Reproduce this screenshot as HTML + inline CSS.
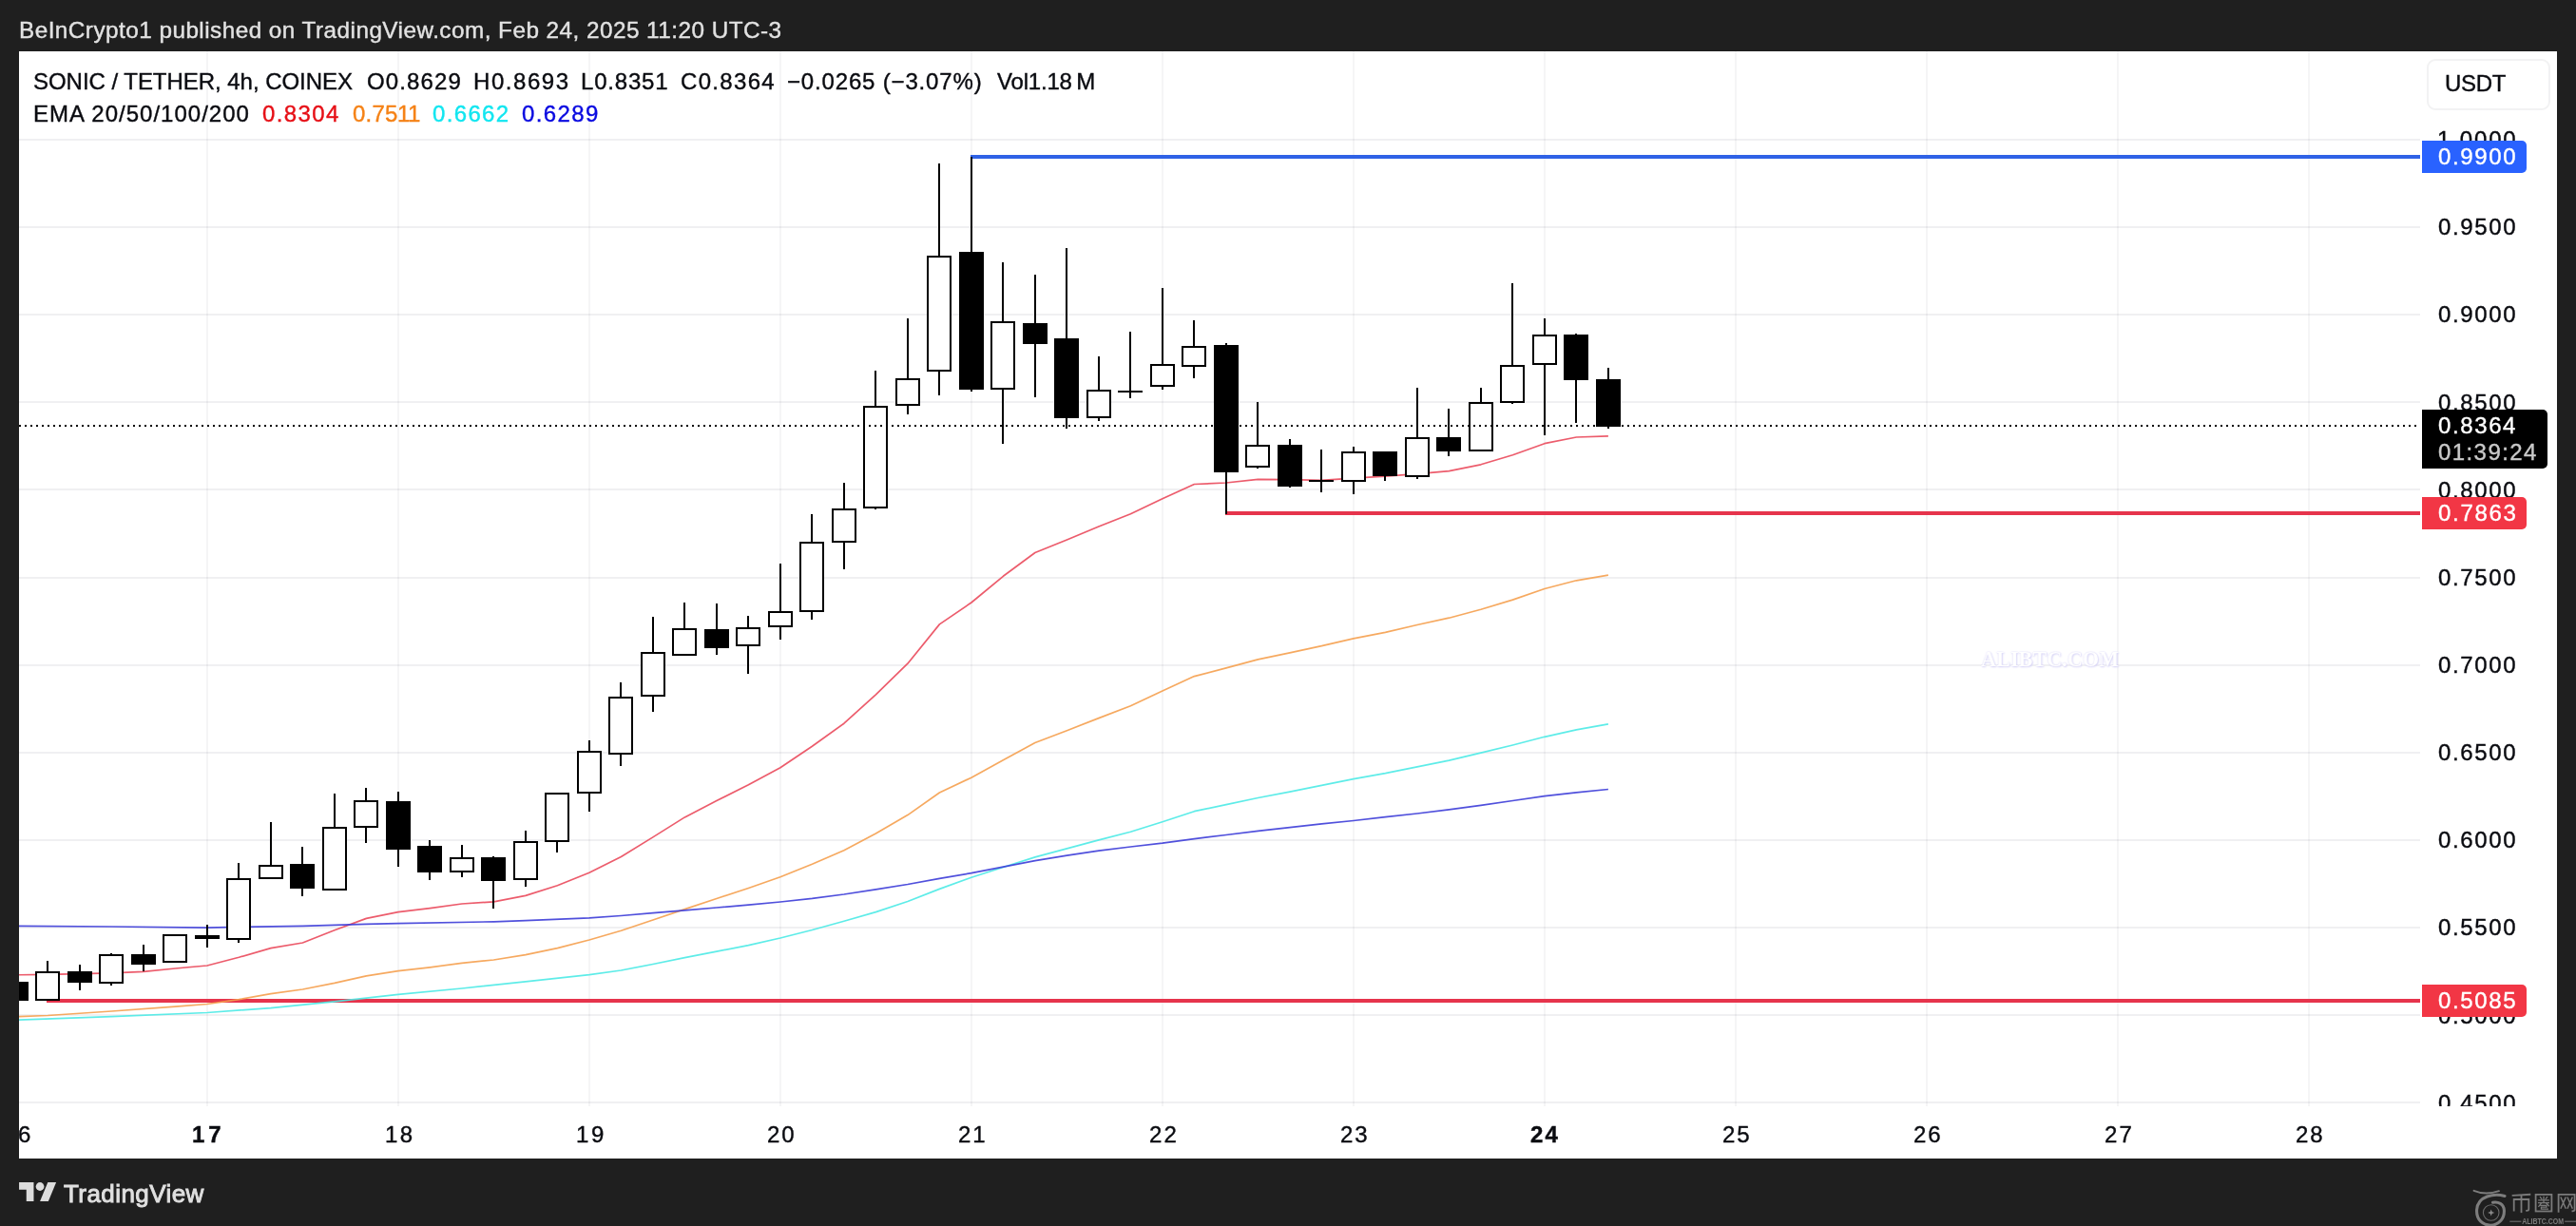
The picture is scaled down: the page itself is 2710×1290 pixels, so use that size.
<!DOCTYPE html>
<html><head><meta charset="utf-8"><title>SONIC / TETHER chart</title>
<style>
html,body{margin:0;padding:0;}
body{width:2710px;height:1290px;background:#1f1f1f;position:relative;overflow:hidden;font-family:"Liberation Sans",sans-serif;}
#paper{position:absolute;left:20px;top:54px;width:2670px;height:1165px;background:#fff;}
svg{position:absolute;left:0;top:0;}
.t{position:absolute;white-space:pre;font-family:"Liberation Sans",sans-serif;will-change:transform;-webkit-font-smoothing:antialiased;-webkit-text-stroke:0.4px;}
.lab{position:absolute;left:2548px;border-radius:0 5px 5px 0;}
</style></head><body>
<div id="paper"></div>

<svg width="2710" height="1290" viewBox="0 0 2710 1290">
<defs><clipPath id="pane"><rect x="20" y="54" width="2526" height="1110"/></clipPath></defs>
<g fill="rgba(42,46,57,0.047)">
<rect x="217" y="54" width="2" height="1110"/>
<rect x="418" y="54" width="2" height="1110"/>
<rect x="619" y="54" width="2" height="1110"/>
<rect x="820" y="54" width="2" height="1110"/>
<rect x="1021" y="54" width="2" height="1110"/>
<rect x="1222" y="54" width="2" height="1110"/>
<rect x="1423" y="54" width="2" height="1110"/>
<rect x="1624" y="54" width="2" height="1110"/>
<rect x="1825" y="54" width="2" height="1110"/>
<rect x="2026" y="54" width="2" height="1110"/>
<rect x="2227" y="54" width="2" height="1110"/>
<rect x="2428" y="54" width="2" height="1110"/>
</g><g fill="rgba(42,46,70,0.07)">
<rect x="20" y="146" width="2526" height="2"/>
<rect x="20" y="238" width="2526" height="2"/>
<rect x="20" y="330" width="2526" height="2"/>
<rect x="20" y="422" width="2526" height="2"/>
<rect x="20" y="514" width="2526" height="2"/>
<rect x="20" y="607" width="2526" height="2"/>
<rect x="20" y="699" width="2526" height="2"/>
<rect x="20" y="791" width="2526" height="2"/>
<rect x="20" y="883" width="2526" height="2"/>
<rect x="20" y="975" width="2526" height="2"/>
<rect x="20" y="1067" width="2526" height="2"/>
<rect x="20" y="1159" width="2526" height="2"/>
</g>
<g clip-path="url(#pane)">
<rect x="1021" y="163" width="1525" height="4" fill="#2f62e6"/>
<rect x="1289" y="538" width="1257" height="4" fill="#e6344c"/>
<rect x="49" y="1051" width="2497" height="4" fill="#e6344c"/>
<polyline points="16.9,1025.8 50.4,1025.3 83.9,1024.6 117.4,1023.8 150.9,1022.3 184.4,1019.0 217.9,1016.0 251.4,1007.3 284.9,997.6 318.4,992.0 351.9,978.8 385.4,966.4 418.9,959.7 452.4,955.6 485.9,951.0 519.4,948.8 552.9,942.4 586.4,931.7 619.9,918.2 653.4,901.5 686.9,880.9 720.4,859.9 753.9,842.6 787.4,825.7 820.9,807.7 854.4,785.2 887.9,761.2 921.4,730.8 954.9,698.2 988.4,656.9 1021.9,634.0 1055.4,606.3 1088.9,581.5 1122.4,568.0 1155.9,554.0 1189.4,540.8 1222.9,524.7 1256.4,509.5 1289.9,508.0 1323.4,504.3 1356.9,504.6 1390.4,505.4 1423.9,503.1 1457.4,501.2 1490.9,498.6 1524.4,495.6 1557.9,488.8 1591.4,478.7 1624.9,466.7 1658.4,460.0 1691.9,458.8" fill="none" stroke="#ea4a5c" stroke-width="1.7" stroke-linejoin="round" stroke-linecap="butt" opacity="0.9"/>
<polyline points="16.9,1069.8 50.4,1068.5 117.4,1064.0 184.4,1059.1 217.9,1056.5 251.4,1051.6 284.9,1045.6 318.4,1041.0 351.9,1034.3 385.4,1026.8 418.9,1021.6 452.4,1017.8 485.9,1013.3 519.4,1010.0 552.9,1004.7 586.4,997.6 619.9,989.0 653.4,979.3 686.9,968.0 720.4,956.6 753.9,945.5 787.4,934.5 820.9,922.8 854.4,909.2 887.9,894.7 921.4,877.1 954.9,857.6 988.4,834.0 1021.9,818.2 1055.4,799.8 1088.9,781.5 1122.4,768.7 1155.9,755.6 1189.4,742.8 1222.9,727.0 1256.4,711.6 1289.9,702.9 1323.4,693.9 1356.9,686.8 1390.4,679.7 1423.9,671.8 1457.4,665.3 1490.9,657.5 1524.4,650.2 1557.9,641.2 1591.4,631.1 1624.9,619.5 1658.4,610.8 1691.9,605.2" fill="none" stroke="#f5a04f" stroke-width="1.7" stroke-linejoin="round" stroke-linecap="butt" opacity="0.9"/>
<polyline points="16.9,1073.2 117.4,1069.6 217.9,1065.5 284.9,1060.6 351.9,1053.8 418.9,1046.3 485.9,1040.0 552.9,1032.8 619.9,1025.7 653.4,1021.0 686.9,1014.5 720.4,1007.7 753.9,1001.2 787.4,994.7 820.9,987.0 854.4,978.5 887.9,969.2 921.4,959.6 954.9,948.5 988.4,935.4 1021.9,923.3 1055.4,912.5 1088.9,901.9 1122.4,892.9 1155.9,883.9 1189.4,875.3 1222.9,864.7 1256.4,853.7 1289.9,846.6 1323.4,839.5 1356.9,833.1 1390.4,826.3 1423.9,819.6 1457.4,813.6 1490.9,806.8 1524.4,800.1 1557.9,792.2 1591.4,784.0 1624.9,775.3 1658.4,767.8 1691.9,761.8" fill="none" stroke="#4deae6" stroke-width="1.7" stroke-linejoin="round" stroke-linecap="butt" opacity="0.9"/>
<polyline points="16.9,974.3 117.4,975.0 217.9,976.2 251.4,975.4 318.4,974.3 385.4,972.4 418.9,971.7 519.4,969.8 552.9,968.7 619.9,965.9 653.4,963.5 686.9,960.7 720.4,957.8 753.9,955.0 787.4,952.2 820.9,949.0 854.4,945.4 887.9,941.0 921.4,935.8 954.9,930.5 988.4,924.3 1021.9,918.7 1055.4,912.2 1088.9,905.6 1122.4,900.2 1155.9,895.1 1189.4,891.0 1222.9,887.2 1256.4,882.6 1289.9,878.5 1323.4,874.4 1356.9,870.6 1390.4,866.9 1423.9,863.5 1457.4,859.7 1490.9,856.0 1524.4,851.9 1557.9,847.4 1591.4,842.5 1624.9,837.6 1658.4,833.9 1691.9,830.5" fill="none" stroke="#3d3dd8" stroke-width="1.7" stroke-linejoin="round" stroke-linecap="butt" opacity="0.9"/>
<g fill="#000">
<rect x="4" y="1033" width="26" height="20"/>
<rect x="49" y="1011" width="2" height="11"/>
<rect x="37" y="1022" width="26" height="31"/>
<rect x="39" y="1024" width="22" height="27" fill="#fff"/>
<rect x="83" y="1015" width="2" height="7"/>
<rect x="83" y="1034" width="2" height="8"/>
<rect x="71" y="1022" width="26" height="12"/>
<rect x="116" y="1003" width="2" height="1"/>
<rect x="116" y="1035" width="2" height="2"/>
<rect x="104" y="1004" width="26" height="31"/>
<rect x="106" y="1006" width="22" height="27" fill="#fff"/>
<rect x="150" y="994" width="2" height="10"/>
<rect x="150" y="1015" width="2" height="7"/>
<rect x="138" y="1004" width="26" height="11"/>
<rect x="171" y="983" width="26" height="30"/>
<rect x="173" y="985" width="22" height="26" fill="#fff"/>
<rect x="217" y="973" width="2" height="11"/>
<rect x="217" y="988" width="2" height="9"/>
<rect x="205" y="984" width="26" height="4"/>
<rect x="250" y="908" width="2" height="16"/>
<rect x="250" y="989" width="2" height="3"/>
<rect x="238" y="924" width="26" height="65"/>
<rect x="240" y="926" width="22" height="61" fill="#fff"/>
<rect x="284" y="865" width="2" height="45"/>
<rect x="272" y="910" width="26" height="15"/>
<rect x="274" y="912" width="22" height="11" fill="#fff"/>
<rect x="317" y="891" width="2" height="18"/>
<rect x="317" y="935" width="2" height="8"/>
<rect x="305" y="909" width="26" height="26"/>
<rect x="351" y="835" width="2" height="35"/>
<rect x="339" y="870" width="26" height="67"/>
<rect x="341" y="872" width="22" height="63" fill="#fff"/>
<rect x="384" y="829" width="2" height="13"/>
<rect x="384" y="871" width="2" height="16"/>
<rect x="372" y="842" width="26" height="29"/>
<rect x="374" y="844" width="22" height="25" fill="#fff"/>
<rect x="418" y="833" width="2" height="10"/>
<rect x="418" y="894" width="2" height="18"/>
<rect x="406" y="843" width="26" height="51"/>
<rect x="451" y="884" width="2" height="6"/>
<rect x="451" y="918" width="2" height="8"/>
<rect x="439" y="890" width="26" height="28"/>
<rect x="485" y="889" width="2" height="13"/>
<rect x="485" y="918" width="2" height="5"/>
<rect x="473" y="902" width="26" height="16"/>
<rect x="475" y="904" width="22" height="12" fill="#fff"/>
<rect x="518" y="901" width="2" height="1"/>
<rect x="518" y="927" width="2" height="29"/>
<rect x="506" y="902" width="26" height="25"/>
<rect x="552" y="874" width="2" height="11"/>
<rect x="552" y="926" width="2" height="7"/>
<rect x="540" y="885" width="26" height="41"/>
<rect x="542" y="887" width="22" height="37" fill="#fff"/>
<rect x="585" y="886" width="2" height="11"/>
<rect x="573" y="834" width="26" height="52"/>
<rect x="575" y="836" width="22" height="48" fill="#fff"/>
<rect x="619" y="779" width="2" height="11"/>
<rect x="619" y="835" width="2" height="19"/>
<rect x="607" y="790" width="26" height="45"/>
<rect x="609" y="792" width="22" height="41" fill="#fff"/>
<rect x="652" y="718" width="2" height="15"/>
<rect x="652" y="794" width="2" height="12"/>
<rect x="640" y="733" width="26" height="61"/>
<rect x="642" y="735" width="22" height="57" fill="#fff"/>
<rect x="686" y="649" width="2" height="37"/>
<rect x="686" y="733" width="2" height="16"/>
<rect x="674" y="686" width="26" height="47"/>
<rect x="676" y="688" width="22" height="43" fill="#fff"/>
<rect x="719" y="634" width="2" height="27"/>
<rect x="707" y="661" width="26" height="29"/>
<rect x="709" y="663" width="22" height="25" fill="#fff"/>
<rect x="753" y="635" width="2" height="27"/>
<rect x="753" y="682" width="2" height="7"/>
<rect x="741" y="662" width="26" height="20"/>
<rect x="786" y="648" width="2" height="12"/>
<rect x="786" y="680" width="2" height="29"/>
<rect x="774" y="660" width="26" height="20"/>
<rect x="776" y="662" width="22" height="16" fill="#fff"/>
<rect x="820" y="593" width="2" height="50"/>
<rect x="820" y="660" width="2" height="13"/>
<rect x="808" y="643" width="26" height="17"/>
<rect x="810" y="645" width="22" height="13" fill="#fff"/>
<rect x="853" y="541" width="2" height="29"/>
<rect x="853" y="644" width="2" height="8"/>
<rect x="841" y="570" width="26" height="74"/>
<rect x="843" y="572" width="22" height="70" fill="#fff"/>
<rect x="887" y="508" width="2" height="27"/>
<rect x="887" y="571" width="2" height="28"/>
<rect x="875" y="535" width="26" height="36"/>
<rect x="877" y="537" width="22" height="32" fill="#fff"/>
<rect x="920" y="390" width="2" height="37"/>
<rect x="920" y="535" width="2" height="1"/>
<rect x="908" y="427" width="26" height="108"/>
<rect x="910" y="429" width="22" height="104" fill="#fff"/>
<rect x="954" y="335" width="2" height="63"/>
<rect x="954" y="427" width="2" height="9"/>
<rect x="942" y="398" width="26" height="29"/>
<rect x="944" y="400" width="22" height="25" fill="#fff"/>
<rect x="987" y="172" width="2" height="97"/>
<rect x="987" y="391" width="2" height="25"/>
<rect x="975" y="269" width="26" height="122"/>
<rect x="977" y="271" width="22" height="118" fill="#fff"/>
<rect x="1021" y="165" width="2" height="100"/>
<rect x="1021" y="410" width="2" height="2"/>
<rect x="1009" y="265" width="26" height="145"/>
<rect x="1054" y="276" width="2" height="62"/>
<rect x="1054" y="410" width="2" height="57"/>
<rect x="1042" y="338" width="26" height="72"/>
<rect x="1044" y="340" width="22" height="68" fill="#fff"/>
<rect x="1088" y="289" width="2" height="51"/>
<rect x="1088" y="362" width="2" height="56"/>
<rect x="1076" y="340" width="26" height="22"/>
<rect x="1121" y="261" width="2" height="95"/>
<rect x="1121" y="440" width="2" height="11"/>
<rect x="1109" y="356" width="26" height="84"/>
<rect x="1155" y="375" width="2" height="35"/>
<rect x="1155" y="440" width="2" height="3"/>
<rect x="1143" y="410" width="26" height="30"/>
<rect x="1145" y="412" width="22" height="26" fill="#fff"/>
<rect x="1188" y="349" width="2" height="62"/>
<rect x="1188" y="413" width="2" height="6"/>
<rect x="1176" y="411" width="26" height="2"/>
<rect x="1222" y="303" width="2" height="80"/>
<rect x="1222" y="407" width="2" height="3"/>
<rect x="1210" y="383" width="26" height="24"/>
<rect x="1212" y="385" width="22" height="20" fill="#fff"/>
<rect x="1255" y="337" width="2" height="27"/>
<rect x="1255" y="386" width="2" height="12"/>
<rect x="1243" y="364" width="26" height="22"/>
<rect x="1245" y="366" width="22" height="18" fill="#fff"/>
<rect x="1289" y="361" width="2" height="2"/>
<rect x="1289" y="497" width="2" height="44"/>
<rect x="1277" y="363" width="26" height="134"/>
<rect x="1322" y="423" width="2" height="45"/>
<rect x="1322" y="492" width="2" height="1"/>
<rect x="1310" y="468" width="26" height="24"/>
<rect x="1312" y="470" width="22" height="20" fill="#fff"/>
<rect x="1356" y="462" width="2" height="6"/>
<rect x="1356" y="512" width="2" height="1"/>
<rect x="1344" y="468" width="26" height="44"/>
<rect x="1389" y="473" width="2" height="32"/>
<rect x="1389" y="507" width="2" height="11"/>
<rect x="1377" y="505" width="26" height="2"/>
<rect x="1423" y="470" width="2" height="5"/>
<rect x="1423" y="507" width="2" height="13"/>
<rect x="1411" y="475" width="26" height="32"/>
<rect x="1413" y="477" width="22" height="28" fill="#fff"/>
<rect x="1456" y="501" width="2" height="5"/>
<rect x="1444" y="475" width="26" height="26"/>
<rect x="1490" y="408" width="2" height="52"/>
<rect x="1490" y="502" width="2" height="2"/>
<rect x="1478" y="460" width="26" height="42"/>
<rect x="1480" y="462" width="22" height="38" fill="#fff"/>
<rect x="1523" y="430" width="2" height="30"/>
<rect x="1523" y="475" width="2" height="5"/>
<rect x="1511" y="460" width="26" height="15"/>
<rect x="1557" y="408" width="2" height="15"/>
<rect x="1545" y="423" width="26" height="52"/>
<rect x="1547" y="425" width="22" height="48" fill="#fff"/>
<rect x="1590" y="298" width="2" height="86"/>
<rect x="1590" y="424" width="2" height="1"/>
<rect x="1578" y="384" width="26" height="40"/>
<rect x="1580" y="386" width="22" height="36" fill="#fff"/>
<rect x="1624" y="335" width="2" height="17"/>
<rect x="1624" y="384" width="2" height="74"/>
<rect x="1612" y="352" width="26" height="32"/>
<rect x="1614" y="354" width="22" height="28" fill="#fff"/>
<rect x="1657" y="351" width="2" height="1"/>
<rect x="1657" y="400" width="2" height="45"/>
<rect x="1645" y="352" width="26" height="48"/>
<rect x="1691" y="387" width="2" height="12"/>
<rect x="1691" y="449" width="2" height="2"/>
<rect x="1679" y="399" width="26" height="50"/>
</g>
<line x1="20" y1="448" x2="2546" y2="448" stroke="#000" stroke-width="2" stroke-dasharray="2 4" stroke-dashoffset="0"/>
</g>
<g transform="translate(20.06,1239.7) scale(1.1)" fill="#dcdcdc"><path d="M14 22H7V11H0V4h14v18z"/><path d="M28 22h-8l7.5-18h8L28 22z"/><circle cx="20" cy="8" r="4"/></g>
</svg>
<div class="t" style="left:19.75px;top:17.58px;font-size:24.3px;line-height:28.3px;letter-spacing:0.468px;color:#e2e2e2;">BeInCrypto1 published on TradingView.com, Feb 24, 2025 11:20 UTC-3</div>
<div class="t" style="left:35.48px;top:71.73px;font-size:24px;line-height:28px;letter-spacing:-0.039px;color:#0a0b10;">SONIC / TETHER, 4h, COINEX</div>
<div class="t" style="left:386.27px;top:71.73px;font-size:24px;line-height:28px;letter-spacing:1.121px;color:#0a0b10;">O0.8629</div>
<div class="t" style="left:498.00px;top:71.73px;font-size:24px;line-height:28px;letter-spacing:1.562px;color:#0a0b10;">H0.8693</div>
<div class="t" style="left:611.00px;top:71.73px;font-size:24px;line-height:28px;letter-spacing:0.812px;color:#0a0b10;">L0.8351</div>
<div class="t" style="left:715.55px;top:71.73px;font-size:24px;line-height:28px;letter-spacing:1.325px;color:#0a0b10;">C0.8364</div>
<div class="t" style="left:828.38px;top:71.73px;font-size:24px;line-height:28px;letter-spacing:0.833px;color:#0a0b10;">−0.0265 (−3.07%)</div>
<div class="t" style="left:1048.67px;top:71.73px;font-size:24px;line-height:28px;letter-spacing:-0.194px;color:#0a0b10;">Vol1.18 M</div>
<div class="t" style="left:34.60px;top:105.53px;font-size:24px;line-height:28px;letter-spacing:1.002px;color:#0a0b10;">EMA 20/50/100/200</div>
<div class="t" style="left:275.73px;top:105.53px;font-size:24px;line-height:28px;letter-spacing:1.370px;color:#e60f16;">0.8304</div>
<div class="t" style="left:370.73px;top:105.53px;font-size:24px;line-height:28px;letter-spacing:0.208px;color:#f58216;">0.75</div>
<div class="t" style="left:418.12px;top:105.53px;font-size:24px;line-height:28px;letter-spacing:-2.875px;color:#f58216;">1</div>
<div class="t" style="left:429.12px;top:105.53px;font-size:24px;line-height:28px;letter-spacing:-2.975px;color:#f58216;">1</div>
<div class="t" style="left:455.12px;top:105.53px;font-size:24px;line-height:28px;letter-spacing:1.350px;color:#12e6f0;">0.6662</div>
<div class="t" style="left:549.42px;top:105.53px;font-size:24px;line-height:28px;letter-spacing:1.365px;color:#0a0ae0;">0.6289</div>
<div style="position:absolute;left:2553px;top:62px;width:126px;height:50px;border:2px solid #f2f2f3;border-radius:9px;background:#fff;"></div>
<div class="t" style="left:2571.62px;top:73.68px;font-size:24px;line-height:28px;letter-spacing:-0.292px;color:#0a0b10;">USDT</div>
<div style="position:absolute;left:0;top:54px;width:2710px;height:1110px;overflow:hidden;"><div style="position:absolute;left:0;top:-54px;">
<div class="t" style="left:2563.82px;top:133.08px;font-size:24px;line-height:28px;letter-spacing:1.860px;color:#0a0b10;">1.0000</div>
<div class="t" style="left:2564.82px;top:225.23px;font-size:24px;line-height:28px;letter-spacing:1.660px;color:#0a0b10;">0.9500</div>
<div class="t" style="left:2564.82px;top:317.38px;font-size:24px;line-height:28px;letter-spacing:1.660px;color:#0a0b10;">0.9000</div>
<div class="t" style="left:2564.82px;top:409.53px;font-size:24px;line-height:28px;letter-spacing:1.660px;color:#0a0b10;">0.8500</div>
<div class="t" style="left:2564.82px;top:501.68px;font-size:24px;line-height:28px;letter-spacing:1.660px;color:#0a0b10;">0.8000</div>
<div class="t" style="left:2564.82px;top:593.83px;font-size:24px;line-height:28px;letter-spacing:1.660px;color:#0a0b10;">0.7500</div>
<div class="t" style="left:2564.82px;top:685.98px;font-size:24px;line-height:28px;letter-spacing:1.660px;color:#0a0b10;">0.7000</div>
<div class="t" style="left:2564.82px;top:778.13px;font-size:24px;line-height:28px;letter-spacing:1.660px;color:#0a0b10;">0.6500</div>
<div class="t" style="left:2564.82px;top:870.28px;font-size:24px;line-height:28px;letter-spacing:1.660px;color:#0a0b10;">0.6000</div>
<div class="t" style="left:2564.82px;top:962.43px;font-size:24px;line-height:28px;letter-spacing:1.660px;color:#0a0b10;">0.5500</div>
<div class="t" style="left:2564.82px;top:1054.58px;font-size:24px;line-height:28px;letter-spacing:1.660px;color:#0a0b10;">0.5000</div>
<div class="t" style="left:2564.82px;top:1146.73px;font-size:24px;line-height:28px;letter-spacing:1.660px;color:#0a0b10;">0.4500</div>
</div></div>
<div class="lab" style="top:148px;height:34px;width:110px;background:#2962ff;"></div>
<div class="t" style="left:2564.82px;top:150.98px;font-size:24px;line-height:28px;letter-spacing:1.660px;color:#fff;">0.9900</div>
<div class="lab" style="top:431px;height:62px;width:132px;background:#000;"></div>
<div class="t" style="left:2564.82px;top:433.68px;font-size:24px;line-height:28px;letter-spacing:1.610px;color:#fff;">0.8364</div>
<div class="t" style="left:2564.53px;top:461.98px;font-size:24px;line-height:28px;letter-spacing:1.418px;color:#c9c9c9;">01:39:24</div>
<div class="lab" style="top:523px;height:34px;width:110px;background:#f23645;"></div>
<div class="t" style="left:2564.82px;top:525.68px;font-size:24px;line-height:28px;letter-spacing:1.685px;color:#fff;">0.7863</div>
<div class="lab" style="top:1036px;height:34px;width:110px;background:#f23645;"></div>
<div class="t" style="left:2564.82px;top:1039.28px;font-size:24px;line-height:28px;letter-spacing:1.660px;color:#fff;">0.5085</div>
<div style="position:absolute;left:20px;top:1170px;width:2526px;height:48px;overflow:hidden;"><div style="position:absolute;left:-20px;top:-1170px;">
<div class="t" style="left:2.52px;top:1179.68px;font-size:24px;line-height:28px;letter-spacing:2.650px;color:#0a0b10;">16</div>
<div class="t" style="left:202.40px;top:1179.68px;font-size:24px;line-height:28px;letter-spacing:3.875px;color:#0a0b10;font-weight:700;">17</div>
<div class="t" style="left:404.52px;top:1179.68px;font-size:24px;line-height:28px;letter-spacing:2.525px;color:#0a0b10;">18</div>
<div class="t" style="left:605.52px;top:1179.68px;font-size:24px;line-height:28px;letter-spacing:2.650px;color:#0a0b10;">19</div>
<div class="t" style="left:807.15px;top:1179.68px;font-size:24px;line-height:28px;letter-spacing:1.900px;color:#0a0b10;">20</div>
<div class="t" style="left:1008.15px;top:1179.68px;font-size:24px;line-height:28px;letter-spacing:2.025px;color:#0a0b10;">21</div>
<div class="t" style="left:1209.15px;top:1179.68px;font-size:24px;line-height:28px;letter-spacing:2.150px;color:#0a0b10;">22</div>
<div class="t" style="left:1410.15px;top:1179.68px;font-size:24px;line-height:28px;letter-spacing:2.025px;color:#0a0b10;">23</div>
<div class="t" style="left:1610.03px;top:1179.68px;font-size:24px;line-height:28px;letter-spacing:2.250px;color:#0a0b10;font-weight:700;">24</div>
<div class="t" style="left:1812.15px;top:1179.68px;font-size:24px;line-height:28px;letter-spacing:1.900px;color:#0a0b10;">25</div>
<div class="t" style="left:2013.15px;top:1179.68px;font-size:24px;line-height:28px;letter-spacing:2.025px;color:#0a0b10;">26</div>
<div class="t" style="left:2214.15px;top:1179.68px;font-size:24px;line-height:28px;letter-spacing:2.150px;color:#0a0b10;">27</div>
<div class="t" style="left:2415.15px;top:1179.68px;font-size:24px;line-height:28px;letter-spacing:1.900px;color:#0a0b10;">28</div>
</div></div>
<div class="t" style="left:66.78px;top:1241.19px;font-size:26px;line-height:30px;letter-spacing:0.430px;color:#e0e0e0;-webkit-text-stroke:0.9px;">TradingView</div>
<div style="position:absolute;left:2084px;top:677.9px;font-family:'Liberation Serif',serif;font-weight:700;font-size:23.5px;line-height:30px;color:#fff;white-space:pre;transform-origin:0 0;transform:scaleX(0.945);text-shadow:0 0 1.5px #cfcbf3,1px 1px 2px #d6d3f6;will-change:transform;">ALIBTC.COM</div>
<svg width="2710" height="1290" viewBox="0 0 2710 1290" style="pointer-events:none;will-change:transform"><g fill="none" stroke="#7d7d7d" stroke-linecap="round" stroke-linejoin="round"><path d="M2602.5,1252.8 Q2615,1258 2629,1253.2" stroke-width="1.8"/><path d="M2635,1258.4 C2624,1255.5 2606.5,1258 2605.6,1273 C2605,1284 2612.5,1289.2 2620,1289.2 C2629,1289.2 2634.8,1282 2634.4,1273.5 C2634,1266.5 2628,1264.2 2622.5,1265.2" stroke-width="3.1"/><circle cx="2620.7" cy="1276" r="8.3" stroke-width="1.1" stroke="#6a6a6a"/></g><path d="M2620.7,1272.4 l1,2.6 2.6,1 -2.6,1 -1,2.6 -1,-2.6 -2.6,-1 2.6,-1z" fill="#8a8a8a"/><g fill="none" stroke="#7b7b7b" stroke-width="1.8" stroke-linecap="square"><path d="M2643.6,1257.8 L2661.4,1256.8"/><path d="M2644.7,1273.6 V1262 H2660.3 V1272.2 q0,1.6 -2.2,1.6"/><path d="M2652.5,1258.4 V1275.2"/><rect x="2667.6" y="1256.9" width="16.8" height="17.6"/><path d="M2672.4,1259.6 l1.4,1.8 M2679.6,1259.6 l-1.4,1.8 M2670.8,1262.9 H2681.2 M2670.6,1265.6 H2681.4 M2676,1259.4 V1265.6 M2673.6,1265.8 L2670.8,1269.4 M2678.4,1265.8 L2681.4,1268.8 M2673,1268.4 H2679 V1270.2 H2673.4 V1272.2 H2680.4" stroke-width="1.25"/><path d="M2691.6,1274.8 V1256.9 H2708.6 V1272.6 q0,1.8 -2.2,1.8"/><path d="M2694.2,1260.2 L2699,1271 M2699,1260.2 L2694.2,1271 M2701.2,1260.2 L2706,1271 M2706,1260.2 L2701.2,1271" stroke-width="1.5"/></g><path d="M2640.3,1285.2 H2652.4 M2698.2,1285.2 H2710" stroke="#787878" stroke-width="1"/><text x="2653.3" y="1288.1" font-family="Liberation Sans, sans-serif" font-weight="700" font-size="8.4" fill="#7c7c7c" textLength="43.8" lengthAdjust="spacingAndGlyphs">ALIBTC.COM</text></svg>
</body></html>
